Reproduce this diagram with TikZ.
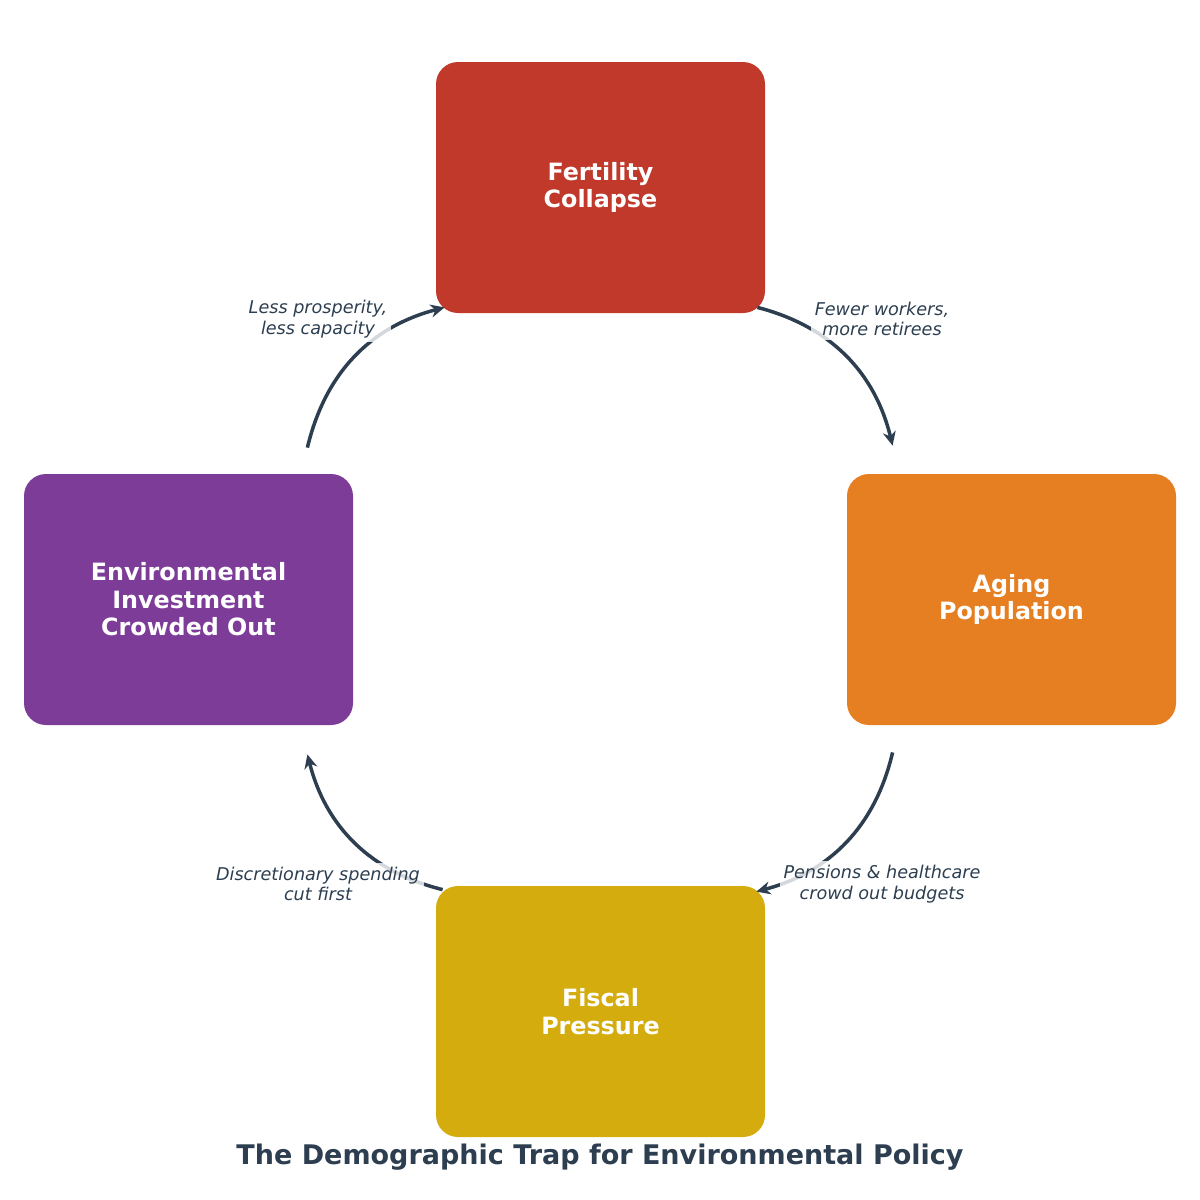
\documentclass[tikz,border=0pt]{standalone}
\usepackage{fontspec}
\setmainfont{DejaVu Sans}
\usetikzlibrary{arrows.meta,calc}
\definecolor{cred}{HTML}{C0392B}
\definecolor{corange}{HTML}{E67E22}
\definecolor{cyellow}{HTML}{D4AC0D}
\definecolor{cpurple}{HTML}{7D3C98}
\definecolor{cdark}{HTML}{2C3E50}
\tikzset{
  box/.style={rounded corners=11pt, minimum width=164.5pt, minimum height=125.5pt,
    inner sep=0pt, text=white, align=center, font=\fontsize{11.9}{13.8}\selectfont\bfseries},
  arr/.style={draw=cdark, line width=1.75pt, -{Stealth[length=7pt,width=6.5pt]}},
  lbl/.style={fill=white, fill opacity=0.8, text opacity=1, text=cdark, align=center,
    inner sep=2pt, font=\fontsize{8.8}{10.2}\selectfont\itshape},
}
\begin{document}
\begin{tikzpicture}[x=0.5pt,y=-0.5pt]
\useasboundingbox (0,0) rectangle (1200,1200);
\node[box, fill=cred] (fert) at (600.5,187.5) {Fertility\\Collapse};
\node[box, fill=corange] (aging) at (1011.5,599.5) {Aging\\Population};
\node[box, fill=cyellow] (fiscal) at (600.5,1011.5) {Fiscal\\Pressure};
\node[box, fill=cpurple] (env) at (188.5,599.5) {Environmental\\Investment\\Crowded Out};

\draw[arr] ([shift={(-8,-6)}]fert.south east) .. controls +(72.9,18.8) and +(-17.7,-73.2) .. ([shift={(46,-28)}]aging.north west);
\draw[arr] ([shift={(46,27)}]aging.south west) .. controls +(-17.3,73.9) and +(73.3,-19.5) .. ([shift={(-9,6)}]fiscal.north east);
\draw[arr] ([shift={(7,4)}]fiscal.north west) .. controls +(-72.3,-17.8) and +(18.3,72.2) .. ([shift={(-46,29)}]env.south east);
\draw[arr] ([shift={(-46,-26)}]env.north east) .. controls +(17.8,-74.6) and +(-74.2,19.4) .. ([shift={(9,-6)}]fert.south west);

\node[lbl] (l1) at (882,319) {Fewer workers,\\more retirees};
\node[lbl] (l2) at (882,884) {Pensions \& healthcare\\crowd out budgets};
\node[lbl] (l3) at (318,884) {Discretionary spending\\cut first};
\node[lbl] (l4) at (318,319) {Less prosperity,\\less capacity};

\node[text=cdark, font=\fontsize{13.5}{15.5}\selectfont\bfseries] (title) at (600,1157) {The Demographic Trap for Environmental Policy};
\end{tikzpicture}
\end{document}
